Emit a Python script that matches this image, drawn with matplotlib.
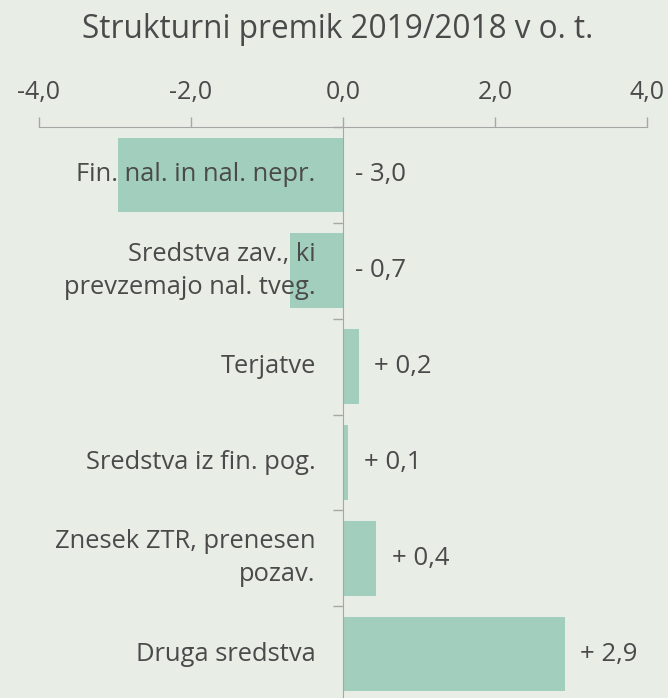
import matplotlib
matplotlib.use("Agg")
from matplotlib import pyplot as plt
import numpy as np

plt.rcParams["font.family"] = ["Open Sans", "DejaVu Sans"]

categories = [
    "Fin. nal. in nal. nepr.",
    "Sredstva zav., ki\nprevzemajo nal. tveg.",
    "Terjatve",
    "Sredstva iz fin. pog.",
    "Znesek ZTR, prenesen\npozav.",
    "Druga sredstva",
]
values = [-2.96, -0.70, 0.21, 0.07, 0.44, 2.92]
xticks = [-4.0, -2.0, 0.0, 2.0, 4.0]
title = "Strukturni premik 2019/2018 v o. t."

bg = "#e8ede6"
bar_color = "#a2cebd"
text_color = "#4a4a4a"
axis_color = "#a6a6a6"

fig = plt.figure(figsize=(6.68, 6.98), dpi=100, facecolor=bg)
# axes top sits at y=127 px, 6 bands of ~96 px
ax = fig.add_axes([39 / 668, 1 - 127 / 698 - 575 / 698, 608 / 668, 575 / 698])
ax.set_facecolor(bg)

y = np.arange(len(categories))
ax.barh(y, values, height=0.78, color=bar_color, zorder=2)

ax.set_xlim(-4, 4)
ax.set_ylim(len(categories) - 0.5, -0.5)

# x axis on top
ax.xaxis.tick_top()
ax.set_xticks(xticks)
ax.set_xticklabels([f"{t:.1f}".replace(".", ",") for t in xticks])
ax.tick_params(axis="x", direction="out", length=7, width=1, color=axis_color,
               labelsize=18, labelcolor=text_color, pad=9)

# vertical axis at zero
for s in ["right", "bottom"]:
    ax.spines[s].set_visible(False)
ax.spines["top"].set_color(axis_color)
ax.spines["left"].set_color(axis_color)
ax.spines["left"].set_position(("data", 0))
ax.spines["left"].set_zorder(3)
ax.set_yticks(np.arange(len(categories) + 1) - 0.5)
ax.set_yticklabels([])
ax.tick_params(axis="y", direction="out", length=7, width=1, color=axis_color)

for i, (cat, v) in enumerate(zip(categories, values)):
    ax.text(-0.36, i, cat, ha="right", va="center", fontsize=18.4,
            color=text_color, linespacing=1.4, zorder=4)
    sign = "+" if v > 0 else "-"
    lab = f"{sign} {abs(v):.1f}".replace(".", ",")
    xpos = 0.16 if v < 0 else v + 0.2
    ax.text(xpos, i, lab, ha="left", va="center", fontsize=18.5,
            color=text_color, zorder=4)

fig.text(0.505, 0.958, title, ha="center", va="center", fontsize=22.7, color=text_color)

fig.savefig("out.png", dpi=100, facecolor=bg)
